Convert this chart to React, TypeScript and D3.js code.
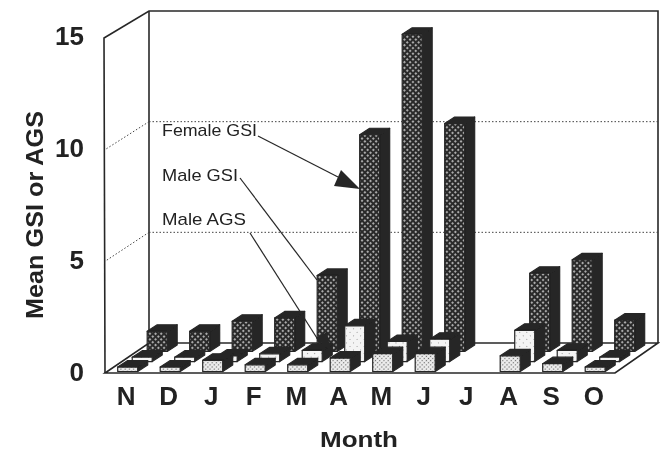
import React from "react";
import * as d3 from "d3";

const months = ["N", "D", "J", "F", "M", "A", "M", "J", "J", "A", "S", "O"];
const femaleGSI = [0.9, 0.9, 1.35, 1.5, 3.4, 9.7, 14.2, 10.2, 0, 3.5, 4.1, 1.4];
const maleGSI = [0.2, 0.2, 0.25, 0.35, 0.5, 1.6, 0.9, 1.0, 0, 1.4, 0.5, 0.2];
const maleAGS = [0.2, 0.2, 0.5, 0.3, 0.3, 0.6, 0.8, 0.8, 0, 0.7, 0.35, 0.2];
const yTicks = [0, 5, 10, 15];
const gridTicks = [5, 10];

const W = 660, H = 452;
const floorLeft = 105, floorRight = 615, floorY = 373;
const depthX = 44, depthY = -30;

const xBand = d3.scaleBand<number>().domain(d3.range(12)).range([floorLeft, floorRight]);
const y = d3.scaleLinear().domain([0, 15]).range([0, -335]);
const yBack = d3.scaleLinear().domain([0, 15]).range([floorY + depthY, 11]);
const yLabel = d3.scaleLinear().domain([0, 15]).range([381, 45]);

const series = [
  { values: femaleGSI, depth: 0.72, fill: "url(#dotsDark)" },
  { values: maleGSI, depth: 0.38, fill: "url(#dotsLight)" },
  { values: maleAGS, depth: 0.05, fill: "url(#dotsMid)" },
];

const faceW = 20, sideX = 10, sideY = -6.5, INK = "#262626";

function Bar({ i, v, depth, fill }: { i: number; v: number; depth: number; fill: string }) {
  if (v <= 0) return null;
  const x0 = (xBand(i) as number) + 10.5 + depth * depthX;
  const base = floorY + depth * depthY;
  const top = base + y(v);
  const pts = (a: number[][]) => a.map((p) => p.join(",")).join(" ");
  return (
    <g stroke={INK} strokeWidth={1.2} strokeLinejoin="round">
      <polygon fill={INK} points={pts([[x0 + faceW, top], [x0 + faceW + sideX, top + sideY], [x0 + faceW + sideX, base + sideY], [x0 + faceW, base]])} />
      <polygon fill={INK} points={pts([[x0, top], [x0 + sideX, top + sideY], [x0 + faceW + sideX, top + sideY], [x0 + faceW, top]])} />
      <rect x={x0} y={top} width={faceW} height={base - top} fill={fill} />
    </g>
  );
}

export default function App() {
  const sans = "'Liberation Sans', Arial, sans-serif";
  return (
    <svg width={W} height={H} style={{ position: "absolute", left: 0, top: 0, background: "#fff" }}>
      <defs>
        <pattern id="dotsDark" width="4" height="4" patternUnits="userSpaceOnUse" patternTransform="rotate(45)">
          <rect width="4" height="4" fill="#2a2a2a" />
          <circle cx="2" cy="2" r="0.9" fill="#e8e8e8" />
        </pattern>
        <pattern id="dotsLight" width="5" height="5" patternUnits="userSpaceOnUse" patternTransform="rotate(45)">
          <rect width="5" height="5" fill="#f4f4f4" />
          <circle cx="2.5" cy="2.5" r="0.5" fill="#777" />
        </pattern>
        <pattern id="dotsMid" width="3" height="3" patternUnits="userSpaceOnUse" patternTransform="rotate(45)">
          <rect width="3" height="3" fill="#eee" />
          <circle cx="1.5" cy="1.5" r="0.7" fill="#666" />
        </pattern>
        <filter id="scan" x="-2%" y="-2%" width="104%" height="104%">
          <feGaussianBlur stdDeviation="0.45" />
        </filter>
      </defs>
      <g filter="url(#scan)">
        <g fill="none" stroke={INK} strokeWidth={1.6}>
          <polyline points={`${floorLeft},${floorY} ${floorLeft - 1},${floorY + y(15)} ${floorLeft + depthX},11 658,11 658,${floorY + depthY}`} />
          <line x1={floorLeft + depthX} y1={11} x2={floorLeft + depthX} y2={floorY + depthY} />
          <polygon points={`${floorLeft},${floorY} ${floorRight},${floorY} 658,${floorY + depthY} ${floorLeft + depthX},${floorY + depthY}`} />
        </g>
        {gridTicks.map((t) => (
          <g key={t} stroke="#444" strokeWidth={1} strokeDasharray="1.5 2" fill="none">
            <line x1={floorLeft + depthX} x2={658} y1={yBack(t)} y2={yBack(t)} />
            <line x1={floorLeft + depthX} x2={floorLeft} y1={yBack(t)} y2={floorY + y(t)} />
          </g>
        ))}
        {series.map((s, k) => (
          <g key={k}>
            {s.values.map((v, i) => (
              <Bar key={i} i={i} v={v} depth={s.depth} fill={s.fill} />
            ))}
          </g>
        ))}
        <g stroke={INK} strokeWidth={1.2} fill="none">
          <line x1={258} y1={136} x2={338} y2={177} />
          <line x1={240} y1={178} x2={317} y2={280} />
          <line x1={250} y1={233} x2={322} y2={346} />
        </g>
        <polygon points="360,189 341,170 334,186" fill={INK} />
        <polygon points="331,352 316,338 327,332" fill={INK} />
        <g fontFamily={sans} fill="#222">
          <text x={162} y={136} fontSize={17} textLength={95} lengthAdjust="spacingAndGlyphs">Female GSI</text>
          <text x={162} y={181} fontSize={17} textLength={76} lengthAdjust="spacingAndGlyphs">Male GSI</text>
          <text x={162} y={225} fontSize={17} textLength={84} lengthAdjust="spacingAndGlyphs">Male AGS</text>
        </g>
        <g fontFamily={sans} fontWeight="bold" fill="#222">
          {yTicks.map((t) => (
            <text key={t} x={84} y={yLabel(t)} textAnchor="end" fontSize={26}>{t}</text>
          ))}
          {months.map((m, i) => (
            <text key={i} x={(xBand(i) as number) + xBand.bandwidth() / 2} y={405} textAnchor="middle" fontSize={26}>{m}</text>
          ))}
          <text x={359} y={447} textAnchor="middle" fontSize={22} textLength={78} lengthAdjust="spacingAndGlyphs">Month</text>
          <text transform="translate(43,215) rotate(-90)" textAnchor="middle" fontSize={24} textLength={208} lengthAdjust="spacingAndGlyphs">Mean GSI or AGS</text>
        </g>
      </g>
    </svg>
  );
}
